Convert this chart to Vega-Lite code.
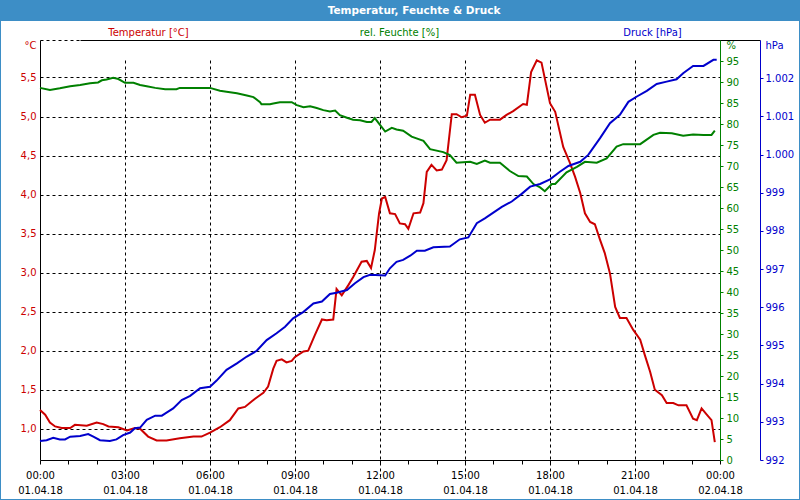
{
  "$schema": "https://vega.github.io/schema/vega-lite/v6.json",
  "width": 798,
  "height": 478,
  "autosize": {"type": "none"},
  "padding": {"left": 1, "top": 21, "right": 1, "bottom": 1},
  "background": "#3D8EC6",
  "title": {"text": "Temperatur, Feuchte & Druck", "color": "white", "font": "DejaVu Sans", "fontSize": 10.5, "fontWeight": "bold", "anchor": "middle", "baseline": "middle", "offset": 0, "dx": 14},
  "config": {
    "view": {"fill": "white", "stroke": null},
    "axis": {"labelFont": "DejaVu Sans", "labelFontSize": 10, "titleFont": "DejaVu Sans", "titleFontSize": 10, "titleFontWeight": "normal", "labelOverlap": false, "labelBound": false}
  },
  "datasets": {
    "temp": [
      {"t": "2018-04-01T00:00:00Z", "v": 1.24}, {"t": "2018-04-01T00:11:00Z", "v": 1.18}, {"t": "2018-04-01T00:21:00Z", "v": 1.08}, {"t": "2018-04-01T00:32:00Z", "v": 1.03},
      {"t": "2018-04-01T00:46:00Z", "v": 1.01}, {"t": "2018-04-01T01:04:00Z", "v": 1.01}, {"t": "2018-04-01T01:14:00Z", "v": 1.05}, {"t": "2018-04-01T01:39:00Z", "v": 1.04},
      {"t": "2018-04-01T02:00:00Z", "v": 1.08}, {"t": "2018-04-01T02:14:00Z", "v": 1.06}, {"t": "2018-04-01T02:25:00Z", "v": 1.03}, {"t": "2018-04-01T02:46:00Z", "v": 1.02},
      {"t": "2018-04-01T03:04:00Z", "v": 0.98}, {"t": "2018-04-01T03:21:00Z", "v": 1.01}, {"t": "2018-04-01T03:32:00Z", "v": 1.0}, {"t": "2018-04-01T03:49:00Z", "v": 0.9},
      {"t": "2018-04-01T04:07:00Z", "v": 0.85}, {"t": "2018-04-01T04:28:00Z", "v": 0.85}, {"t": "2018-04-01T04:56:00Z", "v": 0.88}, {"t": "2018-04-01T05:25:00Z", "v": 0.9},
      {"t": "2018-04-01T05:42:00Z", "v": 0.9}, {"t": "2018-04-01T06:00:00Z", "v": 0.95}, {"t": "2018-04-01T06:21:00Z", "v": 1.02}, {"t": "2018-04-01T06:42:00Z", "v": 1.11},
      {"t": "2018-04-01T07:00:00Z", "v": 1.26}, {"t": "2018-04-01T07:14:00Z", "v": 1.28}, {"t": "2018-04-01T07:28:00Z", "v": 1.35}, {"t": "2018-04-01T07:39:00Z", "v": 1.4},
      {"t": "2018-04-01T07:53:00Z", "v": 1.46}, {"t": "2018-04-01T08:03:00Z", "v": 1.54}, {"t": "2018-04-01T08:14:00Z", "v": 1.77}, {"t": "2018-04-01T08:21:00Z", "v": 1.87},
      {"t": "2018-04-01T08:32:00Z", "v": 1.89}, {"t": "2018-04-01T08:42:00Z", "v": 1.85}, {"t": "2018-04-01T08:53:00Z", "v": 1.87}, {"t": "2018-04-01T09:00:00Z", "v": 1.92},
      {"t": "2018-04-01T09:18:00Z", "v": 1.99}, {"t": "2018-04-01T09:28:00Z", "v": 2.0}, {"t": "2018-04-01T09:42:00Z", "v": 2.2}, {"t": "2018-04-01T09:57:00Z", "v": 2.4},
      {"t": "2018-04-01T10:07:00Z", "v": 2.39}, {"t": "2018-04-01T10:21:00Z", "v": 2.4}, {"t": "2018-04-01T10:28:00Z", "v": 2.79}, {"t": "2018-04-01T10:39:00Z", "v": 2.71},
      {"t": "2018-04-01T10:53:00Z", "v": 2.84}, {"t": "2018-04-01T11:03:00Z", "v": 2.94}, {"t": "2018-04-01T11:21:00Z", "v": 3.14}, {"t": "2018-04-01T11:32:00Z", "v": 3.15},
      {"t": "2018-04-01T11:41:00Z", "v": 3.06}, {"t": "2018-04-01T11:49:00Z", "v": 3.29}, {"t": "2018-04-01T11:54:00Z", "v": 3.55}, {"t": "2018-04-01T11:58:00Z", "v": 3.76},
      {"t": "2018-04-01T12:04:00Z", "v": 3.95}, {"t": "2018-04-01T12:11:00Z", "v": 3.97}, {"t": "2018-04-01T12:21:00Z", "v": 3.76}, {"t": "2018-04-01T12:32:00Z", "v": 3.75},
      {"t": "2018-04-01T12:42:00Z", "v": 3.63}, {"t": "2018-04-01T12:53:00Z", "v": 3.62}, {"t": "2018-04-01T13:00:00Z", "v": 3.56}, {"t": "2018-04-01T13:11:00Z", "v": 3.76},
      {"t": "2018-04-01T13:25:00Z", "v": 3.77}, {"t": "2018-04-01T13:32:00Z", "v": 3.89}, {"t": "2018-04-01T13:39:00Z", "v": 4.29}, {"t": "2018-04-01T13:49:00Z", "v": 4.38},
      {"t": "2018-04-01T14:00:00Z", "v": 4.31}, {"t": "2018-04-01T14:11:00Z", "v": 4.32}, {"t": "2018-04-01T14:21:00Z", "v": 4.44}, {"t": "2018-04-01T14:32:00Z", "v": 5.03},
      {"t": "2018-04-01T14:42:00Z", "v": 5.03}, {"t": "2018-04-01T14:53:00Z", "v": 4.99}, {"t": "2018-04-01T15:04:00Z", "v": 5.01}, {"t": "2018-04-01T15:11:00Z", "v": 5.28},
      {"t": "2018-04-01T15:21:00Z", "v": 5.28}, {"t": "2018-04-01T15:32:00Z", "v": 5.02}, {"t": "2018-04-01T15:42:00Z", "v": 4.92}, {"t": "2018-04-01T15:53:00Z", "v": 4.96},
      {"t": "2018-04-01T16:14:00Z", "v": 4.96}, {"t": "2018-04-01T16:28:00Z", "v": 5.02}, {"t": "2018-04-01T16:42:00Z", "v": 5.07}, {"t": "2018-04-01T17:03:00Z", "v": 5.16},
      {"t": "2018-04-01T17:11:00Z", "v": 5.15}, {"t": "2018-04-01T17:20:00Z", "v": 5.57}, {"t": "2018-04-01T17:32:00Z", "v": 5.72}, {"t": "2018-04-01T17:42:00Z", "v": 5.69},
      {"t": "2018-04-01T18:00:00Z", "v": 5.17}, {"t": "2018-04-01T18:11:00Z", "v": 5.06}, {"t": "2018-04-01T18:28:00Z", "v": 4.61}, {"t": "2018-04-01T18:42:00Z", "v": 4.41},
      {"t": "2018-04-01T18:53:00Z", "v": 4.23}, {"t": "2018-04-01T19:04:00Z", "v": 4.02}, {"t": "2018-04-01T19:14:00Z", "v": 3.76}, {"t": "2018-04-01T19:25:00Z", "v": 3.65},
      {"t": "2018-04-01T19:35:00Z", "v": 3.62}, {"t": "2018-04-01T19:46:00Z", "v": 3.42}, {"t": "2018-04-01T19:56:00Z", "v": 3.25}, {"t": "2018-04-01T20:07:00Z", "v": 2.99},
      {"t": "2018-04-01T20:18:00Z", "v": 2.56}, {"t": "2018-04-01T20:28:00Z", "v": 2.42}, {"t": "2018-04-01T20:42:00Z", "v": 2.42}, {"t": "2018-04-01T20:56:00Z", "v": 2.27},
      {"t": "2018-04-01T21:11:00Z", "v": 2.14}, {"t": "2018-04-01T21:21:00Z", "v": 1.94}, {"t": "2018-04-01T21:32:00Z", "v": 1.73}, {"t": "2018-04-01T21:42:00Z", "v": 1.5},
      {"t": "2018-04-01T21:57:00Z", "v": 1.43}, {"t": "2018-04-01T22:07:00Z", "v": 1.33}, {"t": "2018-04-01T22:21:00Z", "v": 1.33}, {"t": "2018-04-01T22:32:00Z", "v": 1.3},
      {"t": "2018-04-01T22:49:00Z", "v": 1.3}, {"t": "2018-04-01T23:03:00Z", "v": 1.13}, {"t": "2018-04-01T23:11:00Z", "v": 1.11}, {"t": "2018-04-01T23:21:00Z", "v": 1.26},
      {"t": "2018-04-01T23:32:00Z", "v": 1.18}, {"t": "2018-04-01T23:42:00Z", "v": 1.11}, {"t": "2018-04-01T23:49:00Z", "v": 0.83}
    ],
    "hum": [
      {"t": "2018-04-01T00:00:00Z", "v": 88.6}, {"t": "2018-04-01T00:21:00Z", "v": 88.1}, {"t": "2018-04-01T00:42:00Z", "v": 88.5}, {"t": "2018-04-01T01:04:00Z", "v": 89.0},
      {"t": "2018-04-01T01:25:00Z", "v": 89.3}, {"t": "2018-04-01T01:46:00Z", "v": 89.7}, {"t": "2018-04-01T02:03:00Z", "v": 89.9}, {"t": "2018-04-01T02:11:00Z", "v": 90.4},
      {"t": "2018-04-01T02:21:00Z", "v": 90.6}, {"t": "2018-04-01T02:35:00Z", "v": 91.0}, {"t": "2018-04-01T02:46:00Z", "v": 90.7}, {"t": "2018-04-01T03:00:00Z", "v": 89.8},
      {"t": "2018-04-01T03:18:00Z", "v": 89.8}, {"t": "2018-04-01T03:32:00Z", "v": 89.3}, {"t": "2018-04-01T03:46:00Z", "v": 89.0}, {"t": "2018-04-01T04:04:00Z", "v": 88.6},
      {"t": "2018-04-01T04:25:00Z", "v": 88.3}, {"t": "2018-04-01T04:49:00Z", "v": 88.3}, {"t": "2018-04-01T04:56:00Z", "v": 88.6}, {"t": "2018-04-01T06:00:00Z", "v": 88.6},
      {"t": "2018-04-01T06:21:00Z", "v": 87.9}, {"t": "2018-04-01T06:35:00Z", "v": 87.7}, {"t": "2018-04-01T06:57:00Z", "v": 87.3}, {"t": "2018-04-01T07:18:00Z", "v": 86.8},
      {"t": "2018-04-01T07:32:00Z", "v": 86.4}, {"t": "2018-04-01T07:46:00Z", "v": 85.2}, {"t": "2018-04-01T07:49:00Z", "v": 84.7}, {"t": "2018-04-01T08:07:00Z", "v": 84.7},
      {"t": "2018-04-01T08:14:00Z", "v": 84.9}, {"t": "2018-04-01T08:28:00Z", "v": 85.2}, {"t": "2018-04-01T08:53:00Z", "v": 85.2}, {"t": "2018-04-01T09:04:00Z", "v": 84.5},
      {"t": "2018-04-01T09:18:00Z", "v": 84.0}, {"t": "2018-04-01T09:32:00Z", "v": 84.2}, {"t": "2018-04-01T09:46:00Z", "v": 83.8}, {"t": "2018-04-01T10:00:00Z", "v": 83.3},
      {"t": "2018-04-01T10:14:00Z", "v": 83.0}, {"t": "2018-04-01T10:25:00Z", "v": 83.2}, {"t": "2018-04-01T10:35:00Z", "v": 82.1}, {"t": "2018-04-01T10:50:00Z", "v": 81.5},
      {"t": "2018-04-01T11:03:00Z", "v": 81.0}, {"t": "2018-04-01T11:18:00Z", "v": 80.9}, {"t": "2018-04-01T11:32:00Z", "v": 80.5}, {"t": "2018-04-01T11:42:00Z", "v": 80.5},
      {"t": "2018-04-01T11:49:00Z", "v": 81.4}, {"t": "2018-04-01T12:00:00Z", "v": 79.8}, {"t": "2018-04-01T12:11:00Z", "v": 78.2}, {"t": "2018-04-01T12:25:00Z", "v": 79.1},
      {"t": "2018-04-01T12:35:00Z", "v": 78.7}, {"t": "2018-04-01T12:49:00Z", "v": 78.4}, {"t": "2018-04-01T13:07:00Z", "v": 77.0}, {"t": "2018-04-01T13:32:00Z", "v": 76.0},
      {"t": "2018-04-01T13:46:00Z", "v": 74.0}, {"t": "2018-04-01T14:14:00Z", "v": 73.3}, {"t": "2018-04-01T14:28:00Z", "v": 72.6}, {"t": "2018-04-01T14:42:00Z", "v": 70.8},
      {"t": "2018-04-01T15:11:00Z", "v": 71.0}, {"t": "2018-04-01T15:25:00Z", "v": 70.5}, {"t": "2018-04-01T15:42:00Z", "v": 71.3}, {"t": "2018-04-01T15:53:00Z", "v": 70.8},
      {"t": "2018-04-01T16:14:00Z", "v": 70.8}, {"t": "2018-04-01T16:35:00Z", "v": 68.8}, {"t": "2018-04-01T16:53:00Z", "v": 67.6}, {"t": "2018-04-01T17:11:00Z", "v": 67.5},
      {"t": "2018-04-01T17:25:00Z", "v": 65.7}, {"t": "2018-04-01T17:39:00Z", "v": 64.9}, {"t": "2018-04-01T17:49:00Z", "v": 64.0}, {"t": "2018-04-01T18:04:00Z", "v": 65.7},
      {"t": "2018-04-01T18:11:00Z", "v": 65.7}, {"t": "2018-04-01T18:35:00Z", "v": 68.5}, {"t": "2018-04-01T18:57:00Z", "v": 69.8}, {"t": "2018-04-01T19:14:00Z", "v": 71.0},
      {"t": "2018-04-01T19:39:00Z", "v": 70.8}, {"t": "2018-04-01T20:00:00Z", "v": 71.8}, {"t": "2018-04-01T20:21:00Z", "v": 74.6}, {"t": "2018-04-01T20:35:00Z", "v": 75.2},
      {"t": "2018-04-01T21:11:00Z", "v": 75.2}, {"t": "2018-04-01T21:39:00Z", "v": 77.4}, {"t": "2018-04-01T21:53:00Z", "v": 77.9}, {"t": "2018-04-01T22:18:00Z", "v": 77.8},
      {"t": "2018-04-01T22:42:00Z", "v": 77.2}, {"t": "2018-04-01T23:03:00Z", "v": 77.5}, {"t": "2018-04-01T23:25:00Z", "v": 77.4}, {"t": "2018-04-01T23:42:00Z", "v": 77.4},
      {"t": "2018-04-01T23:49:00Z", "v": 78.4}
    ],
    "press": [
      {"t": "2018-04-01T00:00:00Z", "v": 992.5}, {"t": "2018-04-01T00:14:00Z", "v": 992.52}, {"t": "2018-04-01T00:28:00Z", "v": 992.58}, {"t": "2018-04-01T00:42:00Z", "v": 992.54},
      {"t": "2018-04-01T00:53:00Z", "v": 992.54}, {"t": "2018-04-01T01:04:00Z", "v": 992.61}, {"t": "2018-04-01T01:25:00Z", "v": 992.63}, {"t": "2018-04-01T01:42:00Z", "v": 992.68},
      {"t": "2018-04-01T01:53:00Z", "v": 992.61}, {"t": "2018-04-01T02:07:00Z", "v": 992.52}, {"t": "2018-04-01T02:28:00Z", "v": 992.5}, {"t": "2018-04-01T02:42:00Z", "v": 992.54},
      {"t": "2018-04-01T02:56:00Z", "v": 992.65}, {"t": "2018-04-01T03:11:00Z", "v": 992.72}, {"t": "2018-04-01T03:21:00Z", "v": 992.83}, {"t": "2018-04-01T03:32:00Z", "v": 992.85},
      {"t": "2018-04-01T03:46:00Z", "v": 993.05}, {"t": "2018-04-01T04:04:00Z", "v": 993.16}, {"t": "2018-04-01T04:18:00Z", "v": 993.16}, {"t": "2018-04-01T04:28:00Z", "v": 993.24},
      {"t": "2018-04-01T04:42:00Z", "v": 993.35}, {"t": "2018-04-01T05:00:00Z", "v": 993.57}, {"t": "2018-04-01T05:18:00Z", "v": 993.68}, {"t": "2018-04-01T05:39:00Z", "v": 993.88},
      {"t": "2018-04-01T06:00:00Z", "v": 993.92}, {"t": "2018-04-01T06:14:00Z", "v": 994.08}, {"t": "2018-04-01T06:35:00Z", "v": 994.36}, {"t": "2018-04-01T06:57:00Z", "v": 994.53},
      {"t": "2018-04-01T07:18:00Z", "v": 994.71}, {"t": "2018-04-01T07:39:00Z", "v": 994.86}, {"t": "2018-04-01T08:00:00Z", "v": 995.14}, {"t": "2018-04-01T08:21:00Z", "v": 995.32},
      {"t": "2018-04-01T08:39:00Z", "v": 995.49}, {"t": "2018-04-01T08:56:00Z", "v": 995.71}, {"t": "2018-04-01T09:18:00Z", "v": 995.88}, {"t": "2018-04-01T09:39:00Z", "v": 996.1},
      {"t": "2018-04-01T09:57:00Z", "v": 996.15}, {"t": "2018-04-01T10:14:00Z", "v": 996.35}, {"t": "2018-04-01T10:28:00Z", "v": 996.38}, {"t": "2018-04-01T10:50:00Z", "v": 996.45},
      {"t": "2018-04-01T11:07:00Z", "v": 996.63}, {"t": "2018-04-01T11:25:00Z", "v": 996.79}, {"t": "2018-04-01T11:39:00Z", "v": 996.85}, {"t": "2018-04-01T12:11:00Z", "v": 996.83},
      {"t": "2018-04-01T12:21:00Z", "v": 997.02}, {"t": "2018-04-01T12:35:00Z", "v": 997.19}, {"t": "2018-04-01T12:49:00Z", "v": 997.24}, {"t": "2018-04-01T13:04:00Z", "v": 997.35},
      {"t": "2018-04-01T13:18:00Z", "v": 997.48}, {"t": "2018-04-01T13:35:00Z", "v": 997.48}, {"t": "2018-04-01T13:53:00Z", "v": 997.57}, {"t": "2018-04-01T14:28:00Z", "v": 997.59},
      {"t": "2018-04-01T14:49:00Z", "v": 997.78}, {"t": "2018-04-01T15:07:00Z", "v": 997.83}, {"t": "2018-04-01T15:25:00Z", "v": 998.2}, {"t": "2018-04-01T15:42:00Z", "v": 998.33},
      {"t": "2018-04-01T16:00:00Z", "v": 998.48}, {"t": "2018-04-01T16:18:00Z", "v": 998.63}, {"t": "2018-04-01T16:39:00Z", "v": 998.77}, {"t": "2018-04-01T17:00:00Z", "v": 998.97},
      {"t": "2018-04-01T17:18:00Z", "v": 999.16}, {"t": "2018-04-01T17:39:00Z", "v": 999.23}, {"t": "2018-04-01T18:00:00Z", "v": 999.35}, {"t": "2018-04-01T18:21:00Z", "v": 999.55},
      {"t": "2018-04-01T18:39:00Z", "v": 999.7}, {"t": "2018-04-01T19:04:00Z", "v": 999.81}, {"t": "2018-04-01T19:21:00Z", "v": 999.99}, {"t": "2018-04-01T19:46:00Z", "v": 1000.43},
      {"t": "2018-04-01T20:07:00Z", "v": 1000.82}, {"t": "2018-04-01T20:28:00Z", "v": 1001.04}, {"t": "2018-04-01T20:46:00Z", "v": 1001.38}, {"t": "2018-04-01T21:04:00Z", "v": 1001.52},
      {"t": "2018-04-01T21:25:00Z", "v": 1001.67}, {"t": "2018-04-01T21:46:00Z", "v": 1001.85}, {"t": "2018-04-01T22:07:00Z", "v": 1001.91}, {"t": "2018-04-01T22:28:00Z", "v": 1001.97},
      {"t": "2018-04-01T22:42:00Z", "v": 1002.13}, {"t": "2018-04-01T23:03:00Z", "v": 1002.32}, {"t": "2018-04-01T23:25:00Z", "v": 1002.32}, {"t": "2018-04-01T23:46:00Z", "v": 1002.48},
      {"t": "2018-04-01T23:53:00Z", "v": 1002.48}
    ]
  },
  "encoding": {
    "x": {
      "field": "t", "type": "temporal",
      "scale": {"type": "utc", "nice": false, "range": [39, 719], "domain": [1522540800000, 1522627200000]},
      "axis": {
        "orient": "bottom", "offset": -39, "title": null,
        "values": [1522540800000, 1522544400000, 1522548000000, 1522551600000, 1522555200000, 1522558800000, 1522562400000, 1522566000000, 1522569600000, 1522573200000, 1522576800000, 1522580400000, 1522584000000, 1522587600000, 1522591200000, 1522594800000, 1522598400000, 1522602000000, 1522605600000, 1522609200000, 1522612800000, 1522616400000, 1522620000000, 1522623600000, 1522627200000],
        "domainColor": "black", "tickColor": "black", "tickSize": 4,
        "labelExpr": "utchours(datum.value) % 3 == 0 ? [utcFormat(datum.value, '%H:%M'), utcFormat(datum.value, '%d.%m.%y')] : ''",
        "labelFlush": false, "labelColor": "black", "labelLineHeight": 15, "labelPadding": 6,
        "grid": true, "gridColor": "black", "gridDash": [3, 3],
        "gridOpacity": {"condition": {"test": "utchours(datum.value) % 3 == 0 && utchours(datum.value) != 0", "value": 1}, "value": 0}
      }
    }
  },
  "layer": [
    {
      "data": {"name": "temp"},
      "mark": {"type": "line", "color": "#CC0000", "strokeWidth": 2},
      "encoding": {
        "y": {
          "field": "v", "type": "quantitative",
          "scale": {"domain": [0.6, 5.98], "range": [439, 19], "nice": false, "zero": false},
          "axis": {
            "orient": "left", "offset": -39,
            "title": "Temperatur [°C]", "titleColor": "#CC0000", "titleAngle": 0, "titleAlign": "center", "titleBaseline": "middle", "titleX": 108, "titleY": 11,
            "values": [1, 1.5, 2, 2.5, 3, 3.5, 4, 4.5, 5, 5.5, 5.98],
            "labelExpr": "datum.value > 5.9 ? '°C' : replace(format(datum.value, '.1f'), '.', ',')",
            "labelBaseline": {"condition": {"test": "datum.value > 5.9", "value": "top"}, "value": "middle"},
            "labelColor": "#CC0000", "labelPadding": 4,
            "ticks": false,
            "domainColor": "black",
            "grid": true, "gridColor": "black", "gridDash": [3, 3]
          }
        }
      }
    },
    {
      "data": {"name": "hum"},
      "mark": {"type": "line", "color": "#008000", "strokeWidth": 2},
      "encoding": {
        "y": {
          "field": "v", "type": "quantitative",
          "scale": {"domain": [0, 100], "range": [439, 19], "nice": false},
          "axis": {
            "orient": "right", "offset": -79,
            "title": "rel. Feuchte [%]", "titleColor": "#008000", "titleAngle": 0, "titleAlign": "center", "titleBaseline": "middle", "titleX": -321, "titleY": 11,
            "values": [0, 5, 10, 15, 20, 25, 30, 35, 40, 45, 50, 55, 60, 65, 70, 75, 80, 85, 90, 95, 100],
            "labelExpr": "datum.value == 100 ? '%' : format(datum.value, 'd')",
            "labelBaseline": {"condition": {"test": "datum.value == 100", "value": "top"}, "value": "middle"},
            "labelColor": "#008000", "labelPadding": 3,
            "tickSize": 3, "tickColor": "#008000",
            "tickOpacity": {"condition": {"test": "datum.value == 100", "value": 0}, "value": 1},
            "domainColor": "#008000",
            "grid": true, "gridColor": "black",
            "gridOpacity": {"condition": {"test": "datum.value == 100", "value": 1}, "value": 0}
          }
        }
      }
    },
    {
      "data": {"name": "press"},
      "mark": {"type": "line", "color": "#0000CC", "strokeWidth": 2},
      "encoding": {
        "y": {
          "field": "v", "type": "quantitative",
          "scale": {"domain": [992, 1003], "range": [439, 19], "nice": false, "zero": false},
          "axis": {
            "orient": "right", "offset": -39,
            "title": "Druck [hPa]", "titleColor": "#0000CC", "titleAngle": 0, "titleAlign": "center", "titleBaseline": "middle", "titleX": -108, "titleY": 11,
            "values": [992, 993, 994, 995, 996, 997, 998, 999, 1000, 1001, 1002, 1003],
            "labelExpr": "datum.value > 1002.5 ? 'hPa' : datum.value >= 1000 ? '1.' + format(datum.value - 1000, '03d') : format(datum.value, 'd')",
            "labelBaseline": {"condition": {"test": "datum.value > 1002.5", "value": "top"}, "value": "middle"},
            "labelColor": "#0000CC", "labelPadding": 2,
            "tickSize": 3, "tickColor": "#0000CC",
            "tickOpacity": {"condition": {"test": "datum.value > 1002.5", "value": 0}, "value": 1},
            "domainColor": "#0000CC", "grid": false
          }
        }
      }
    }
  ],
  "resolve": {"scale": {"y": "independent"}, "axis": {"y": "independent"}}
}
